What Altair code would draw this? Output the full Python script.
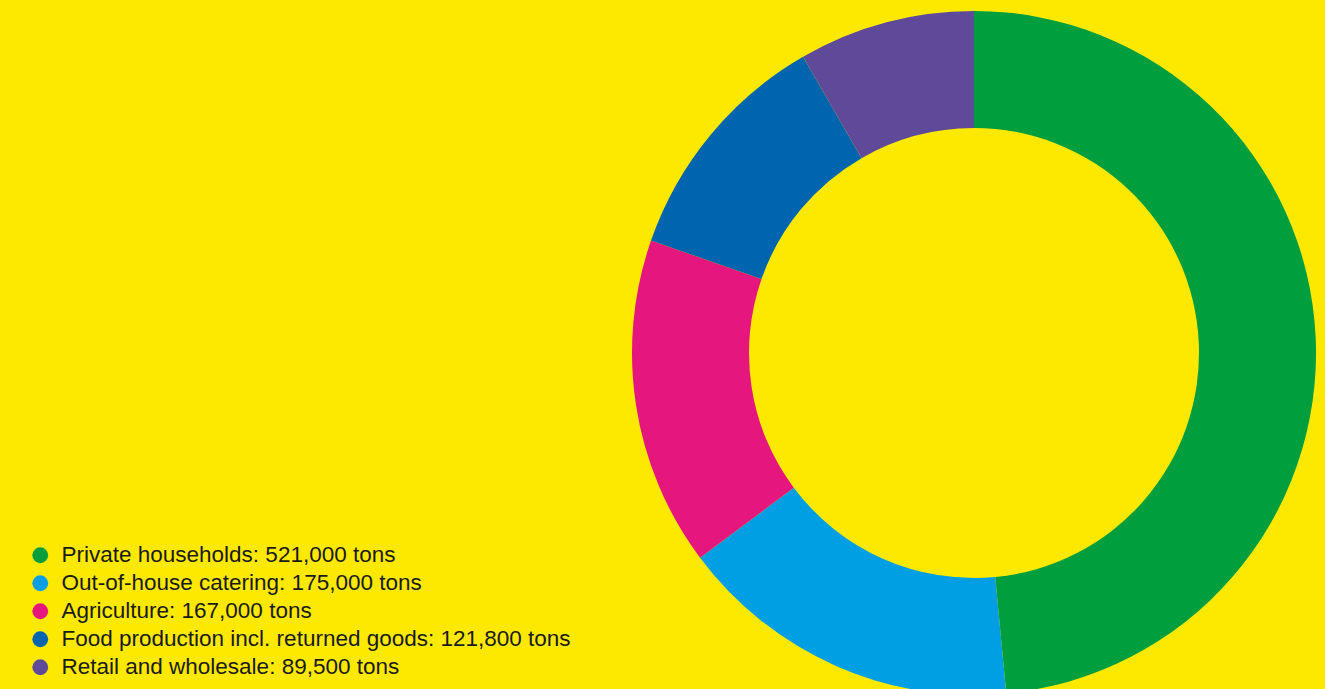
import altair as alt
import pandas as pd

categories = [
    "Private households",
    "Out-of-house catering",
    "Agriculture",
    "Food production incl. returned goods",
    "Retail and wholesale",
]
tons = [521000, 175000, 167000, 121800, 89500]
colors = ["#009E3D", "#009FE3", "#E5177F", "#0064AE", "#5F4A9A"]

labels = [f"{c}: {v:,} tons" for c, v in zip(categories, tons)]
df = pd.DataFrame({"label": labels, "tons": tons, "idx": list(range(len(tons)))})

chart = (
    alt.Chart(df)
    .mark_arc(radius=342, radius2=225, stroke=None)
    .encode(
        theta=alt.Theta("tons:Q", stack=True),
        order=alt.Order("idx:Q"),
        x=alt.value(974),
        y=alt.value(353),
        color=alt.Color(
            "label:N",
            scale=alt.Scale(domain=labels, range=colors),
            sort=labels,
            legend=alt.Legend(
                title=None,
                orient="none",
                legendX=29,
                legendY=544,
                symbolType="circle",
                symbolSize=250,
                symbolStrokeWidth=0,
                labelFontSize=22.5,
                labelFont="Liberation Sans",
                labelColor="#1a1a1a",
                labelLimit=800,
                labelOffset=10,
                rowPadding=5,
                padding=0,
            ),
        ),
    )
    .properties(width=1325, height=689, autosize=alt.AutoSizeParams(type="none"), padding=0)
    .configure(background="#FDE900")
    .configure_view(stroke=None)
)

chart.save("out.html", embed_options={"renderer": "svg", "actions": False})
